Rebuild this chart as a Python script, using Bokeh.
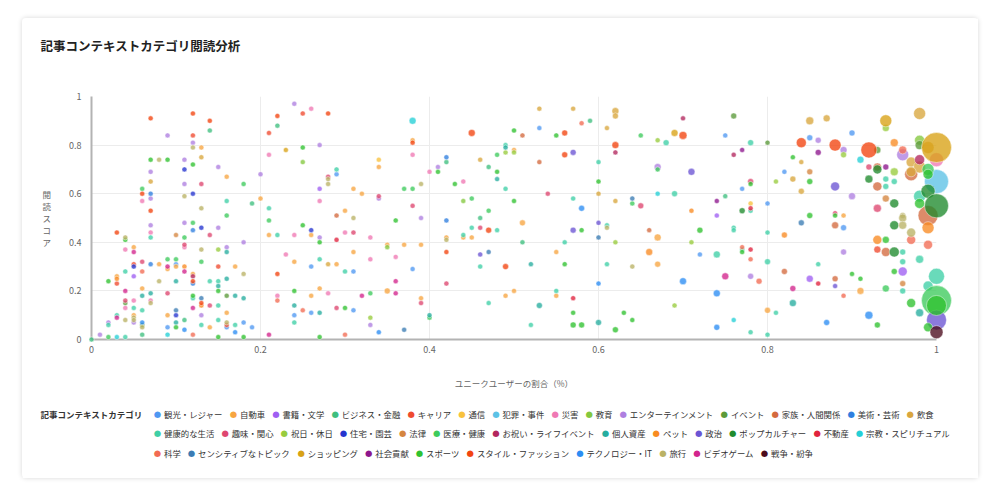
import math
from bokeh.plotting import figure
from bokeh.models import Range1d, FixedTicker, ColumnDataSource
from bokeh.core.properties import value
from bokeh.embed import file_html
from bokeh.resources import INLINE

FONT = "Noto Sans CJK JP"

categories = [
    "観光・レジャー", "自動車", "書籍・文学", "ビジネス・金融", "キャリア", "通信", "犯罪・事件",
    "災害", "教育", "エンターテインメント", "イベント", "家族・人間関係", "美術・芸術", "飲食",
    "健康的な生活", "趣味・関心", "祝日・休日", "住宅・園芸", "法律", "医療・健康",
    "お祝い・ライフイベント", "個人資産", "ペット", "政治", "ポップカルチャー", "不動産",
    "宗教・スピリチュアル", "科学", "センシティブなトピック", "ショッピング", "社会貢献",
    "スポーツ", "スタイル・ファッション", "テクノロジー・IT", "旅行", "ビデオゲーム", "戦争・紛争",
]
colors = [
    "#4f98f2", "#f7a541", "#9f5ff2", "#3fbf7f", "#ef4a2f", "#f8c23d", "#5cc2e6",
    "#ef79b4", "#84c83f", "#ae7fe0", "#5b9a3a", "#d46a3f", "#2f7fdf", "#d9a63e",
    "#3fcfa6", "#de4670", "#98cc3e", "#2535cf", "#d5853f", "#3ecb5c",
    "#b2275e", "#26ad9f", "#f88b22", "#6b55d4", "#1f8b2d", "#e0233d",
    "#25cfd6", "#f26b53", "#3b7cb4", "#d8a215", "#8d168d",
    "#2fc230", "#f24410", "#2b8df3", "#bab265", "#d2248c", "#4c0c1d",
]
legend_rows = [list(range(0, 14)), list(range(14, 27)), list(range(27, 37))]

title_text = "記事コンテキストカテゴリ閲読分析"
legend_title = "記事コンテキストカテゴリ"
x_label = "ユニークユーザーの割合（%）"
y_label = "閲読スコア"

ticks = [0, 0.2, 0.4, 0.6, 0.8, 1]
tick_labels = ["0", "0.2", "0.4", "0.6", "0.8", "1"]

# category index of every article group
cat_ids = [
    3, 9, 31, 9, 14, 19, 32, 1, 22, 4,
    14, 35, 26, 34, 31, 7, 14, 35, 15, 10,
    7, 34, 14, 1, 35, 4, 17, 2, 7, 14,
    1, 34, 34, 9, 19, 32, 7, 15, 27, 1,
    21, 14, 33, 10, 34, 3, 32, 31, 9, 13,
    12, 9, 32, 9, 7, 14, 12, 21, 7, 34,
    34, 1, 34, 9, 31, 19, 35, 1, 15, 1,
    0, 26, 18, 19, 0, 1, 21, 28, 17, 21,
    31, 9, 17, 9, 34, 9, 19, 15, 7, 22,
    35, 3, 33, 32, 4, 9, 34, 31, 17, 19,
    12, 1, 20, 32, 12, 31, 14, 35, 27, 1,
    13, 15, 34, 17, 34, 19, 28, 32, 22, 9,
    14, 32, 3, 15, 14, 15, 1, 9, 9, 16,
    4, 14, 21, 31, 14, 14, 31, 1, 14, 19,
    9, 21, 21, 10, 1, 34, 4, 0, 1, 21,
    14, 33, 19, 9, 34, 21, 0, 31, 3, 0,
    9, 1,
    # 0.2 - 0.4
    9, 7, 32, 4, 32, 26, 3, 4, 1, 32,
    29, 31, 9, 7, 7, 8, 5, 1, 14, 0,
    7, 15, 34, 34, 34, 2, 1, 1, 19, 19,
    15, 9, 7, 14, 15, 1, 11, 34, 19, 31,
    9, 31, 17, 1, 14, 7, 1, 9, 7, 15,
    25, 7, 31, 1, 8, 1, 1, 7, 1, 7,
    1, 14, 7, 13, 1, 0, 0, 32, 14, 0,
    35, 1, 1, 31, 7, 27, 1, 7, 35, 19,
    35, 1, 15, 21, 27, 15, 31, 0, 0, 0,
    21, 21, 19, 16, 14, 9, 33, 28, 35, 31,
    27,
    # 0.4 - 0.6
    13, 13, 27, 3, 0, 32, 31, 11, 31, 32,
    14, 21, 1, 16, 16, 19, 32, 23, 12, 3,
    13, 9, 31, 11, 14, 3, 31, 21, 31, 7,
    14, 31, 13, 15, 14, 8, 19, 31, 33, 19,
    3, 12, 1, 23, 14, 15, 32, 14, 23, 31,
    14, 1, 1, 1, 34, 28, 3, 14, 32, 23,
    28, 1, 14, 32, 21, 31, 15, 33, 1, 1,
    14, 1, 25, 14, 21, 31, 14, 31, 31, 21,
    # 0.6 - 0.8
    13, 13, 13, 20, 10, 19, 29, 32, 0, 16,
    14, 32, 14, 10, 20, 20, 30, 9, 19, 23,
    15, 31, 16, 0, 26, 14, 3, 13, 28, 19,
    15, 30, 5, 25, 14, 24, 0, 22, 2, 14,
    34, 11, 31, 14, 14, 14, 1, 16, 16, 27,
    14, 31, 25, 22, 0, 14, 27, 14, 14, 34,
    1, 35, 9, 27, 33, 33, 16, 1, 31, 31,
    26, 31, 33, 14, 14,
    # 0.8 - 1.0
    13, 13, 32, 0, 9, 32, 9, 16, 0, 30,
    31, 13, 0, 18, 13, 31, 13, 23, 9, 31,
    15, 31, 1, 29, 16, 13, 32, 10, 22, 27,
    9, 26, 15, 11, 24, 30, 16, 24, 14, 14,
    14, 11, 18, 24, 15, 8, 10, 13, 29, 13,
    20, 13, 13, 11, 19, 31, 7, 6, 24, 14,
    31, 24, 11, 34, 28, 11, 0, 22, 34, 34,
    24, 34, 22, 27, 22, 31, 27, 4, 11, 24,
    14, 14, 14, 9, 14, 11, 2, 25, 11, 23,
    31, 31, 1, 31, 2, 18, 14, 19, 35, 27,
    21, 14, 33, 33, 31, 31, 21, 14, 14, 19,
    31, 23, 31, 36,
]

# unique-user share (x)
share = [
    0, .01, .02, .02, .02, .02, .03, .03, .03, .03,
    .03, .03, .03, .04, .04, .04, .04, .04, .04, .04,
    .04, .04, .04, .05, .05, .05, .05, .05, .05, .05,
    .05, .05, .05, .05, .06, .06, .06, .06, .06, .06,
    .06, .06, .06, .06, .06, .06, .07, .07, .07, .07,
    .07, .07, .07, .07, .07, .07, .07, .07, .07, .07,
    .08, .08, .08, .09, .09, .09, .09, .09, .09, .09,
    .09, .09, .10, .10, .10, .10, .10, .10, .10, .10,
    .10, .11, .11, .11, .11, .11, .11, .11, .11, .11,
    .11, .11, .11, .12, .12, .12, .12, .12, .12, .12,
    .12, .12, .12, .12, .12, .12, .12, .12, .12, .13,
    .13, .13, .13, .13, .13, .13, .13, .13, .13, .13,
    .13, .14, .14, .14, .14, .14, .14, .15, .15, .15,
    .15, .15, .15, .15, .15, .15, .15, .16, .16, .16,
    .16, .16, .16, .16, .16, .16, .16, .16, .17, .17,
    .17, .17, .18, .18, .18, .18, .18, .18, .19, .19,
    .20, .20,
    .24, .26, .22, .25, .28, .38, .22, .21, .38, .38,
    .23, .25, .27, .21, .38, .25, .34, .34, .29, .29,
    .40, .28, .28, .28, .39, .27, .31, .32, .37, .38,
    .34, .34, .27, .21, .38, .30, .29, .31, .21, .36,
    .39, .25, .26, .21, .22, .24, .26, .27, .30, .31,
    .29, .33, .27, .35, .35, .37, .39, .23, .31, .36,
    .24, .27, .33, .28, .29, .26, .38, .22, .30, .31,
    .36, .27, .35, .24, .22, .22, .26, .28, .32, .33,
    .36, .39, .39, .24, .25, .29, .30, .31, .24, .26,
    .27, .40, .40, .33, .24, .33, .34, .37, .21, .27,
    .30,
    .53, .57, .58, .59, .53, .45, .50, .51, .55, .56,
    .49, .49, .50, .50, .49, .48, .56, .57, .42, .42,
    .46, .41, .41, .53, .60, .47, .48, .48, .43, .44,
    .49, .60, .60, .54, .57, .44, .45, .50, .58, .47,
    .46, .42, .51, .60, .45, .46, .47, .48, .57, .58,
    .44, .44, .45, .42, .42, .60, .51, .56, .42, .46,
    .47, .55, .46, .49, .52, .56, .42, .60, .50, .49,
    .55, .55, .57, .47, .53, .57, .52, .57, .58, .60,
    .62, .62, .61, .70, .76, .65, .69, .70, .75, .67,
    .68, .62, .78, .80, .62, .76, .77, .67, .67, .71,
    .78, .78, .81, .77, .67, .69, .75, .62, .64, .64,
    .65, .74, .78, .78, .78, .77, .80, .71, .74, .61,
    .61, .66, .72, .76, .76, .80, .67, .62, .71, .77,
    .77, .77, .78, .66, .72, .74, .78, .80, .61, .64,
    .67, .75, .78, .79, .70, .74, .69, .80, .63, .64,
    .76, .62, .74, .78, .80,
    .85, .87, .84, .85, .86, .88, .89, .89, .90, .86,
    .83, .84, .82, .85, .83, .85, .84, .88, .90, .85,
    .88, .88, .89, .94, .94, .98, .92, .93, .95, .96,
    .96, .91, .92, .93, .93, .94, .95, .92, .94, .94,
    .95, .93, .94, .95, .93, .98, .98, .99, 1.0, .97,
    .98, .98, .97, .97, .99, .99, 1.0, 1.0, .99, .98,
    .98, 1.0, .99, .96, .84, .88, .89, .82, .96, .96,
    .95, .97, .99, .97, .93, .94, .99, .93, .94, .95,
    .96, .96, .98, .89, .86, .82, .85, .86, .88, .88,
    .90, .91, .91, .95, .96, .96, .96, .94, .83, .89,
    .83, .81, .92, .87, .93, .97, .98, .99, 1.0, 1.0,
    1.0, 1.0, .99, 1.0,
]

# reading score (y)
score = [
    0, .02, .24, .07, .06, .01, .44, .26, .25, .23,
    .10, .09, .01, .42, .41, .37, .28, .20, .16, .15,
    .13, .08, .01, .38, .36, .31, .30, .26, .16, .13,
    .10, .09, .08, .07, .62, .60, .57, .32, .28, .21,
    .18, .12, .07, .06, .05, .02, .91, .74, .69, .65,
    .60, .58, .53, .47, .44, .42, .31, .19, .16, .15,
    .74, .31, .24, .84, .74, .33, .30, .29, .19, .10,
    .05, .02, .43, .33, .31, .30, .24, .12, .10, .07,
    .05, .74, .70, .64, .59, .48, .42, .39, .38, .30,
    .28, .08, .04, .93, .84, .81, .79, .72, .60, .48,
    .45, .27, .26, .24, .23, .18, .17, .13, .02, .79,
    .75, .64, .54, .46, .37, .32, .17, .15, .14, .10,
    .06, .90, .86, .43, .24, .14, .05, .71, .46, .37,
    .30, .24, .22, .20, .14, .08, .01, .67, .57, .51,
    .38, .36, .25, .18, .11, .07, .06, .05, .30, .18,
    .06, .03, .64, .40, .27, .17, .07, .01, .56, .05,
    .68, .58,
    .97, .95, .92, .93, .93, .90, .88, .85, .82, .81,
    .78, .79, .80, .76, .76, .73, .74, .71, .70, .68,
    .69, .67, .66, .64, .64, .62, .62, .60, .62, .62,
    .59, .58, .57, .54, .55, .53, .51, .50, .49, .49,
    .50, .47, .45, .43, .43, .43, .43, .42, .44, .44,
    .41, .42, .40, .39, .38, .39, .39, .35, .36, .34,
    .32, .33, .33, .31, .31, .30, .29, .27, .28, .28,
    .24, .21, .20, .20, .18, .16, .18, .19, .18, .19,
    .19, .17, .15, .14, .12, .13, .13, .12, .10, .11,
    .11, .10, .09, .09, .07, .06, .03, .04, .02, .01,
    .02,
    .95, .95, .89, .90, .87, .85, .86, .84, .84, .85,
    .80, .79, .78, .77, .77, .76, .76, .77, .75, .73,
    .74, .71, .69, .73, .73, .71, .69, .66, .64, .65,
    .62, .65, .60, .60, .58, .57, .58, .57, .54, .53,
    .50, .49, .48, .48, .46, .46, .45, .45, .45, .45,
    .43, .42, .42, .42, .41, .42, .40, .40, .36, .35,
    .36, .36, .30, .30, .31, .31, .23, .23, .20, .18,
    .20, .18, .17, .15, .14, .11, .06, .06, .06, .07,
    .94, .92, .87, .91, .92, .84, .85, .84, .84, .82,
    .81, .80, .81, .81, .77, .76, .78, .71, .70, .69,
    .65, .64, .65, .62, .60, .60, .59, .57, .58, .56,
    .55, .57, .56, .54, .53, .53, .56, .53, .51, .47,
    .46, .45, .45, .46, .45, .44, .42, .40, .40, .38,
    .37, .36, .37, .36, .35, .35, .33, .32, .31, .30,
    .31, .26, .26, .24, .24, .19, .14, .12, .11, .08,
    .08, .04, .05, .03, .02,
    .90, .91, .81, .83, .82, .80, .78, .76, .85, .77,
    .75, .73, .69, .69, .66, .65, .61, .63, .59, .51,
    .52, .51, .51, .90, .87, .93, .78, .78, .81, .78,
    .76, .74, .71, .71, .70, .71, .69, .66, .66, .63,
    .65, .63, .58, .56, .54, .82, .80, .79, .79, .73,
    .74, .71, .69, .68, .70, .68, .74, .65, .61, .59,
    .56, .55, .51, .51, .48, .47, .46, .43, .50, .47,
    .47, .44, .46, .41, .41, .41, .39, .37, .36, .36,
    .36, .32, .33, .36, .31, .28, .25, .23, .25, .22,
    .27, .25, .20, .28, .28, .23, .20, .21, .21, .18,
    .15, .11, .10, .07, .06, .15, .11, .22, .26, .16,
    .14, .08, .05, .03,
]

# number of reads (bubble area)
reads = [
    100, 100, 100, 100, 100, 100, 100, 100, 100, 100,
    100, 100, 100, 100, 100, 100, 100, 100, 100, 100,
    100, 100, 100, 100, 100, 100, 100, 100, 100, 100,
    100, 100, 100, 100, 100, 100, 100, 100, 100, 100,
    100, 100, 100, 100, 100, 100, 100, 100, 100, 100,
    100, 100, 100, 100, 100, 100, 100, 100, 100, 100,
    100, 100, 100, 100, 100, 100, 100, 100, 100, 100,
    100, 100, 100, 100, 100, 100, 100, 100, 100, 100,
    100, 100, 100, 100, 100, 100, 100, 100, 100, 100,
    100, 100, 100, 100, 100, 100, 100, 100, 100, 100,
    100, 100, 100, 100, 100, 100, 100, 100, 100, 100,
    100, 100, 100, 100, 100, 100, 100, 100, 100, 100,
    100, 100, 100, 100, 100, 100, 100, 100, 100, 100,
    100, 100, 100, 100, 100, 100, 100, 100, 100, 100,
    100, 100, 100, 100, 100, 100, 100, 100, 100, 100,
    100, 100, 100, 100, 100, 100, 100, 100, 100, 100,
    100, 100,
    100, 100, 100, 100, 100, 196, 100, 100, 100, 100,
    100, 100, 100, 100, 100, 100, 100, 100, 100, 100,
    100, 100, 100, 100, 100, 100, 100, 100, 100, 100,
    100, 100, 100, 100, 100, 100, 100, 100, 100, 100,
    100, 100, 100, 100, 100, 100, 100, 100, 100, 100,
    100, 100, 100, 100, 100, 100, 100, 100, 100, 100,
    100, 100, 100, 100, 100, 100, 100, 100, 100, 100,
    100, 100, 144, 100, 100, 100, 100, 100, 100, 100,
    100, 100, 100, 100, 100, 100, 100, 100, 100, 100,
    100, 100, 100, 100, 100, 100, 100, 100, 100, 100,
    100,
    100, 100, 100, 100, 100, 196, 100, 100, 100, 144,
    100, 100, 100, 100, 100, 100, 144, 144, 100, 100,
    100, 100, 100, 100, 100, 100, 100, 100, 100, 100,
    100, 100, 100, 100, 100, 100, 100, 100, 144, 100,
    100, 100, 144, 100, 100, 100, 144, 100, 144, 100,
    100, 100, 100, 100, 100, 100, 100, 100, 100, 100,
    100, 100, 100, 144, 100, 100, 100, 100, 100, 100,
    100, 100, 100, 100, 144, 100, 100, 144, 144, 144,
    196, 144, 100, 100, 144, 100, 196, 256, 100, 100,
    144, 196, 144, 100, 100, 100, 100, 196, 100, 196,
    144, 100, 100, 100, 100, 144, 100, 100, 100, 100,
    144, 100, 100, 100, 100, 144, 100, 100, 100, 100,
    100, 100, 144, 100, 100, 100, 196, 100, 100, 100,
    100, 100, 100, 196, 100, 196, 100, 144, 100, 100,
    144, 196, 144, 144, 196, 196, 100, 144, 100, 100,
    100, 144, 144, 100, 100,
    256, 196, 400, 144, 144, 576, 196, 144, 144, 144,
    100, 100, 100, 144, 144, 144, 144, 324, 196, 144,
    100, 100, 100, 576, 196, 576, 1024, 196, 256, 256,
    576, 196, 144, 256, 324, 144, 256, 256, 144, 144,
    144, 324, 196, 324, 256, 400, 324, 576, 3600, 400,
    400, 576, 400, 676, 576, 400, 784, 2304, 784, 576,
    400, 2304, 1600, 144, 144, 196, 144, 144, 256, 256,
    324, 324, 576, 324, 324, 196, 324, 196, 324, 400,
    144, 144, 256, 144, 100, 144, 196, 100, 144, 100,
    100, 100, 196, 144, 324, 144, 144, 196, 144, 100,
    196, 100, 256, 144, 144, 324, 256, 400, 1024, 3600,
    1600, 1600, 324, 676,
]

n = min(len(cat_ids), len(share), len(score), len(reads))

# ---- layout constants (pixels inside the card) ----
FRAME_W, FRAME_H = 845, 243          # plot frame size
FRAME_L, FRAME_B = 69, 321           # frame left / bottom inside the canvas
LEG_FS = 8.4                         # legend font size (px)
LEG_ROWS_Y = [395, 414.5, 434]       # legend row centres inside the canvas
LEG_X0 = 135                         # first legend dot centre inside the canvas


def px_to_x(px):
    return (px - FRAME_L) / FRAME_W


def px_to_y(py):
    return (FRAME_B - py) / FRAME_H


def label_width(s):
    w = 0.0
    for ch in s:
        if ord(ch) < 128:
            w += {"I": 0.27, "T": 0.56}.get(ch, 0.55)
        else:
            w += 1.0
    return w * LEG_FS


p = figure(
    width=956, height=460,
    x_range=Range1d(0, 1), y_range=Range1d(0, 1),
    output_backend="svg", toolbar_location=None,
    min_border_left=FRAME_L, min_border_right=42, min_border_top=78, min_border_bottom=139,
    margin=(18, 0, 0, 22),
    background_fill_color="white", border_fill_color="white",
)
p.styles = {"box-shadow": "0 0 5px rgba(0,0,0,0.16)", "border-radius": "4px"}
p.outline_line_color = None

for ax in (p.xaxis[0], p.yaxis[0]):
    ax.ticker = FixedTicker(ticks=ticks)
    ax.major_label_overrides = dict(zip(ticks, tick_labels))
    ax.major_tick_line_color = None
    ax.minor_tick_line_color = None
    ax.axis_line_color = "#b3b3b3"
    ax.axis_line_width = 2
    ax.major_label_text_font = FONT
    ax.major_label_text_font_size = "9px"
    ax.major_label_text_color = "#666666"
    ax.axis_label_text_font = FONT
    ax.axis_label_text_font_size = "8.5px"
    ax.axis_label_text_font_style = "normal"
    ax.axis_label_text_color = "#666666"

xa, ya = p.xaxis[0], p.yaxis[0]
xa.major_label_standoff = 0
xa.axis_label = x_label
xa.axis_label_standoff = 21
ya.major_label_standoff = 4
ya.axis_label = "\n".join(y_label)
ya.axis_label_orientation = "horizontal"
ya.axis_label_text_line_height = 1.0
ya.axis_label_standoff = 15

for g in (p.xgrid[0], p.ygrid[0]):
    g.ticker = FixedTicker(ticks=ticks)
    g.grid_line_color = "#ececec"
    g.grid_line_width = 1

# bubbles, one renderer per category
for ci, col in enumerate(colors):
    idx = [k for k in range(n) if cat_ids[k] == ci]
    src = ColumnDataSource(dict(
        x=[share[k] for k in idx],
        y=[score[k] for k in idx],
        s=[0.5 * math.sqrt(reads[k]) for k in idx],
    ))
    p.scatter("x", "y", size="s", source=src, marker="circle",
              fill_color=col, fill_alpha=0.78,
              line_color="white", line_alpha=0.55, line_width=0.8,
              level="annotation")

# title
p.text(x=[px_to_x(18)], y=[px_to_y(27)], text=[title_text],
       text_font=value(FONT), text_font_size="12.5px", text_font_style="bold",
       text_color="#222222", text_baseline="middle", level="annotation")

# legend (flow layout, three rows)
p.text(x=[px_to_x(18)], y=[px_to_y(LEG_ROWS_Y[0])], text=[legend_title],
       text_font=value(FONT), text_font_size="8.5px", text_font_style="bold",
       text_color="#333333", text_baseline="middle", level="annotation")

dot_x, dot_y, dot_c, lab_x, lab_y, lab_t = [], [], [], [], [], []
for row, ry in zip(legend_rows, LEG_ROWS_Y):
    cx = LEG_X0
    for i in row:
        dot_x.append(px_to_x(cx))
        dot_y.append(px_to_y(ry))
        dot_c.append(colors[i])
        lab_x.append(px_to_x(cx + 6.6))
        lab_y.append(px_to_y(ry))
        lab_t.append(categories[i])
        cx += 6.6 + label_width(categories[i]) + 10.6

# legend keys drawn as round bullets
p.text(x=dot_x, y=dot_y, text=["●"] * len(dot_x), text_color=dot_c,
       text_font=value("DejaVu Sans"), text_font_size="8.5px",
       text_align="center", text_baseline="middle", level="annotation")
p.text(x=lab_x, y=lab_y, text=lab_t, text_font=value(FONT),
       text_font_size=f"{LEG_FS}px", text_color="#333333",
       text_baseline="middle", level="annotation")

open("out.html", "w").write(file_html(p, INLINE))
